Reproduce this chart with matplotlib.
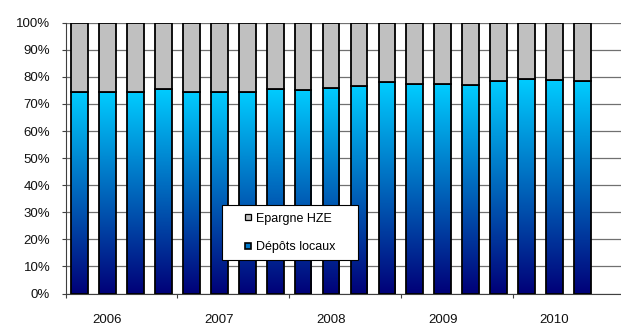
import numpy as np
import matplotlib
matplotlib.use('Agg')
import matplotlib.pyplot as plt
from matplotlib.colors import LinearSegmentedColormap
from matplotlib.patches import Rectangle
from matplotlib.lines import Line2D

# ---------------- data ----------------
categories = ['T1 2006', 'T2 2006', 'T3 2006', 'T4 2006',
              'T1 2007', 'T2 2007', 'T3 2007', 'T4 2007',
              'T1 2008', 'T2 2008', 'T3 2008', 'T4 2008',
              'T1 2009', 'T2 2009', 'T3 2009', 'T4 2009',
              'T1 2010', 'T2 2010', 'T3 2010']
year_labels = ['', '2006', '', '', '', '2007', '', '', '', '2008',
               '', '', '', '2009', '', '', '', '2010', '']
depots_locaux = [74.4, 74.4, 74.4, 75.6, 74.4, 74.4, 74.4, 75.6, 75.2, 76.0,
                 76.6, 78.1, 77.4, 77.5, 77.0, 78.6, 79.1, 78.7, 78.6]
epargne_hze = [100 - v for v in depots_locaux]
y_ticks = [0, 10, 20, 30, 40, 50, 60, 70, 80, 90, 100]
series_names = ['Epargne HZE', 'Dépôts locaux']

# ---------------- style ----------------
plt.rcParams['font.family'] = ['Liberation Sans', 'DejaVu Sans']
W, H = 621, 325
fig = plt.figure(figsize=(W / 100, H / 100), dpi=100)
fig.patch.set_facecolor('white')
ax = fig.add_axes([65.5 / W, 31.5 / H, 559 / W, 270.8 / H])

x = np.arange(len(categories))
cmap = LinearSegmentedColormap.from_list('grad', ['#000078', '#00CCFF'])
bw = 0.6

bars = ax.bar(x, depots_locaux, width=bw, facecolor='none',
              edgecolor='black', linewidth=1.3, zorder=3)
grad = np.linspace(0, 1, 256).reshape(-1, 1)
for b in bars:
    x0, y0, w, h = b.get_x(), b.get_y(), b.get_width(), b.get_height()
    im = ax.imshow(grad, cmap=cmap, origin='lower', aspect='auto',
                   extent=[x0, x0 + w, y0, y0 + h], zorder=2,
                   interpolation='bilinear')
    im.set_clip_path(b)

ax.bar(x, epargne_hze, bottom=depots_locaux, width=bw, color='#C0C0C0',
       edgecolor='black', linewidth=1.3, zorder=3)

ax.set_xlim(-0.5, len(categories) + 0.5)
ax.set_ylim(0, 100)

ax.set_yticks(y_ticks)
ax.set_yticklabels([f'{v}%' for v in y_ticks])
ax.yaxis.grid(True, color='#707070', linewidth=0.9)
ax.set_axisbelow(True)

group_edges = [i - 0.5 for i in range(0, len(categories), 4)]
ax.set_xticks(group_edges)
ax.set_xticklabels([''] * len(group_edges))
lab_pos = [i for i, t in enumerate(year_labels) if t]
ax.set_xticks(lab_pos, minor=True)
ax.set_xticklabels([year_labels[i] for i in lab_pos], minor=True)

for s in ['top', 'right']:
    ax.spines[s].set_visible(False)
for s in ['left', 'bottom']:
    ax.spines[s].set_color('#404040')
    ax.spines[s].set_linewidth(0.8)

ax.tick_params(axis='y', direction='out', length=3, width=0.8,
               color='#404040', pad=8, labelsize=9.5, labelcolor='#111111')
ax.tick_params(axis='x', which='major', direction='out', length=3,
               width=0.8, color='#404040')
ax.tick_params(axis='x', which='minor', length=0, pad=15, labelsize=9.5,
               labelcolor='#111111')

# legend
fig.add_artist(Rectangle((222 / W, 1 - 260 / H), 136 / W, 55 / H,
                         transform=fig.transFigure, facecolor='white',
                         edgecolor='black', linewidth=0.8, zorder=5))
handles = [Line2D([], [], marker='s', markersize=5, linestyle='none',
                  markerfacecolor='#C0C0C0', markeredgecolor='black',
                  markeredgewidth=0.9),
           Line2D([], [], marker='s', markersize=5, linestyle='none',
                  markerfacecolor='#0078C8', markeredgecolor='black',
                  markeredgewidth=1.2)]
leg = fig.legend(handles, series_names, loc='center',
                 bbox_to_anchor=(290 / W, 1 - 233 / H), frameon=False,
                 fontsize=9, handlelength=0.6, handletextpad=0.3,
                 labelspacing=1.35, borderpad=0)
leg.set_zorder(6)

fig.savefig('out.png', dpi=100)
